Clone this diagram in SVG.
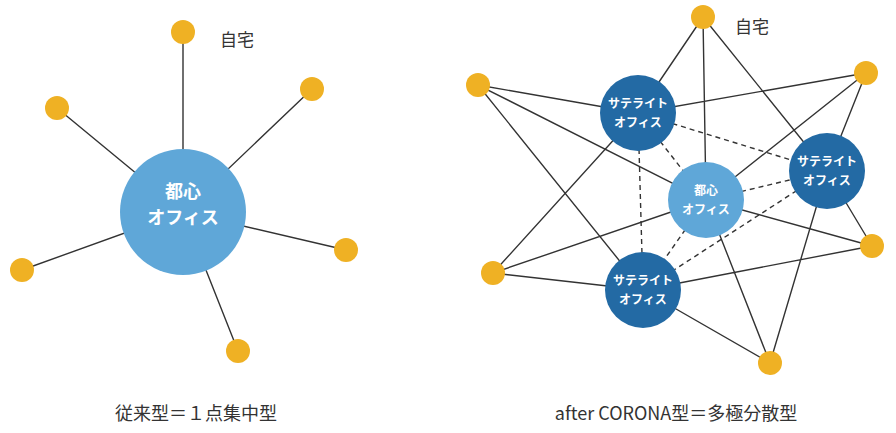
<svg xmlns="http://www.w3.org/2000/svg" width="896" height="433" viewBox="0 0 896 433">
<style>
.l{stroke:#333;stroke-width:1.4;fill:none}
.d{stroke:#333;stroke-width:1.4;stroke-dasharray:5,4;fill:none}
.h{fill:#efb124}
.s{fill:#236aa4}
.c{fill:#5fa7d8}
text{font-family:"Noto Sans CJK JP","Noto Sans",sans-serif;text-anchor:middle}
.w{fill:#fff;font-weight:bold}
.k{fill:#333}
</style>
<rect width="896" height="433" fill="#fff"/>
<g id="connectors">
<path class="l" d="M183,212L183,32M183,212L57,108M183,212L312,89M183,212L22,270M183,212L346,250M183,212L238,351"/>
<path class="l" d="M703,17L638,113M703,17L706,200M703,17L827,171M866,73L638,113M866,73L706,200M866,73L827,171M478,85L638,113M478,85L706,200M478,85L643,290M493,273L638,113M493,273L706,200M493,273L643,290M872,246L827,171M872,246L706,200M872,246L643,290M770,363L706,200M770,363L827,171M770,363L643,290"/>
<path class="d" d="M638,113L827,171M638,113L706,200M638,113L643,290M706,200L827,171M706,200L643,290M827,171L643,290"/>
</g>
<g id="left-center"><circle class="c" cx="183" cy="212" r="63"/><text class="w" x="183" y="198" font-size="18">都心</text><text class="w" x="183" y="224" font-size="18">オフィス</text></g>
<g id="left-homes">
<circle class="h" cx="183" cy="32" r="12"/><circle class="h" cx="57" cy="108" r="12"/><circle class="h" cx="312" cy="89" r="12"/><circle class="h" cx="22" cy="270" r="12"/><circle class="h" cx="346" cy="250" r="12"/><circle class="h" cx="238" cy="351" r="12"/>
</g>
<text class="k" x="237" y="46" font-size="17">自宅</text>
<g id="right-homes">
<circle class="h" cx="703" cy="17" r="12"/><circle class="h" cx="866" cy="73" r="12"/><circle class="h" cx="478" cy="85" r="12"/><circle class="h" cx="493" cy="273" r="12"/><circle class="h" cx="872" cy="246" r="12"/><circle class="h" cx="770" cy="363" r="12"/>
</g>
<text class="k" x="752" y="33" font-size="17">自宅</text>
<g id="sat1"><circle class="s" cx="638" cy="113" r="38"/><text class="w" x="638" y="108" font-size="12">サテライト</text><text class="w" x="638" y="127" font-size="12">オフィス</text></g>
<g id="sat2"><circle class="s" cx="827" cy="171" r="38"/><text class="w" x="827" y="166" font-size="12">サテライト</text><text class="w" x="827" y="185" font-size="12">オフィス</text></g>
<g id="sat3"><circle class="s" cx="643" cy="290" r="38"/><text class="w" x="643" y="285" font-size="12">サテライト</text><text class="w" x="643" y="304" font-size="12">オフィス</text></g>
<g id="right-center"><circle class="c" cx="706" cy="200" r="38"/><text class="w" x="706" y="195" font-size="12">都心</text><text class="w" x="706" y="214" font-size="12">オフィス</text></g>
<text class="k" x="196" y="420" font-size="18">従来型＝１点集中型</text>
<text class="k" x="676" y="420" font-size="18">after CORONA型＝多極分散型</text>
</svg>
